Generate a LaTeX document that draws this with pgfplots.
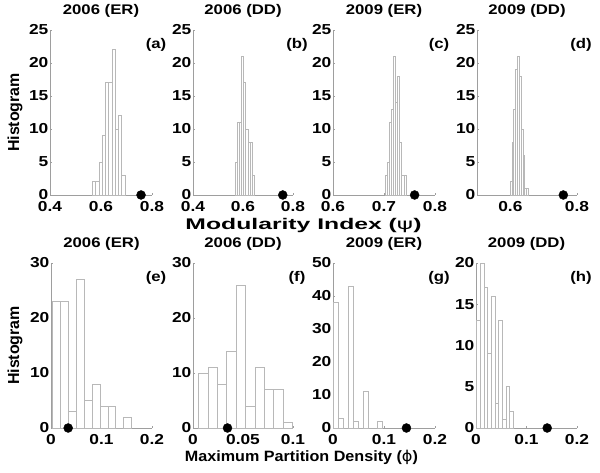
\documentclass[border=0pt]{standalone}
\usepackage{fontspec}
\usepackage{graphicx}
\usepackage{pgfplots}
\pgfplotsset{compat=1.18}
\setmainfont{Liberation Sans}
\newfontfamily\stfont{Liberation Sans}[FakeStretch=1.2]
\newfontfamily\dvs{DejaVu Sans}
\definecolor{barcol}{gray}{0.72}
\definecolor{axcol}{gray}{0.62}
\newcommand{\tfont}{\stfont\bfseries\fontsize{14}{14}\selectfont}
\newcommand{\kfont}{\stfont\bfseries\fontsize{14.5}{14.5}\selectfont}
\pgfplotsset{
  hist/.style={
    scale only axis, height=165bp,
    axis x line*=bottom, axis y line*=left,
    axis line style={axcol, line width=0.6bp},
    tick style={axcol, line width=0.5bp},
    major tick length=2bp, tick align=inside,
    ymin=0, clip=false,
    ticklabel style={font=\kfont, text=black},
    yticklabel style={inner xsep=1.5bp},
    xticklabel style={yshift=-4bp, inner ysep=2bp},
    /pgf/number format/assume math mode=true,
    title style={at={(axis description cs:0.5,1)}, anchor=base, yshift=10bp, font=\tfont},
  },
  bars/.style={ybar interval, draw=barcol, fill=white, line width=0.6bp},
  dot/.style={only marks, mark=*, mark size=4.5bp, black},
}
\newcommand{\plab}[1]{\node[font=\tfont, anchor=base] at (rel axis cs:1.04,0.885) {#1};}
\begin{document}
\begin{tikzpicture}[x=1bp,y=1bp]
\useasboundingbox (0,0) rectangle (600,473);
% ---------- top row ----------
\begin{axis}[hist, at={(50bp,278bp)}, anchor=south west, width=102bp,
  xmin=0.4, xmax=0.8, ymax=25, xtick={0.4,0.6,0.8}, xticklabels={0.4,0.6,0.8},
  ytick={0,5,10,15,20,25}, title={2006 (ER)}]
\addplot[bars] coordinates {(0.566,2) (0.5788,2) (0.5916,5) (0.6044,9) (0.6172,17) (0.63,17) (0.6428,22) (0.6556,10) (0.6684,12) (0.6812,3) (0.694,3)};
\addplot[dot] coordinates {(0.757,0)};
\plab{(a)}
\end{axis}
\begin{axis}[hist, at={(193bp,278bp)}, anchor=south west, width=100bp,
  xmin=0.4, xmax=0.8, ymax=25, xtick={0.4,0.6,0.8}, xticklabels={0.4,0.6,0.8},
  ytick={0,5,10,15,20,25}, title={2006 (DD)}]
\addplot[bars] coordinates {(0.568,5) (0.5766,11) (0.5851,11) (0.5937,21) (0.6022,17) (0.6108,10) (0.6194,8) (0.6279,8) (0.6365,3) (0.645,3)};
\addplot[dot] coordinates {(0.759,0)};
\plab{(b)}
\end{axis}
\begin{axis}[hist, at={(333bp,278bp)}, anchor=south west, width=102bp,
  xmin=0.6, xmax=0.8, ymax=25, xtick={0.6,0.7,0.8}, xticklabels={0.6,0.7,0.8},
  ytick={0,5,10,15,20,25}, title={2009 (ER)}]
\addplot[bars] coordinates {(0.702,3) (0.7061,5) (0.7102,11) (0.7143,13) (0.7184,21) (0.7225,14) (0.7266,18) (0.7307,8) (0.7348,3) (0.7389,3) (0.743,3)};
\addplot[dot] coordinates {(0.760,0)};
\plab{(c)}
\end{axis}
\begin{axis}[hist, at={(477bp,278bp)}, anchor=south west, width=100bp,
  xmin=0.5, xmax=0.8, ymax=25, xtick={0.6,0.8}, xticklabels={0.6,0.8},
  ytick={0,5,10,15,20,25}, title={2009 (DD)}]
\addplot[bars] coordinates {(0.599,2) (0.6045,8) (0.61,13) (0.6155,19) (0.621,21) (0.6265,18) (0.632,10) (0.6375,6) (0.643,1) (0.6485,1) (0.654,1)};
\addplot[dot] coordinates {(0.759,0)};
\plab{(d)}
\end{axis}
% ---------- bottom row ----------
\begin{axis}[hist, at={(51bp,45bp)}, anchor=south west, width=101bp,
  xmin=0, xmax=0.2, ymax=30, xtick={0,0.1,0.2}, xticklabels={0,0.1,0.2},
  ytick={0,10,20,30}, title={2006 (ER)}]
\addplot[bars] coordinates {(0.0027,23) (0.0184,23) (0.0341,3) (0.0498,27) (0.0655,5) (0.0812,8) (0.0969,4) (0.1126,4) (0.1283,0) (0.144,2) (0.1597,2)};
\addplot[dot] coordinates {(0.034,0)};
\plab{(e)}
\end{axis}
\begin{axis}[hist, at={(193bp,45bp)}, anchor=south west, width=100bp,
  xmin=0, xmax=0.1, ymax=30, xtick={0,0.05,0.1}, xticklabels={0,0.05,0.1},
  ytick={0,10,20,30}, title={2006 (DD)}]
\addplot[bars] coordinates {(0.0055,10) (0.0149,11) (0.0243,8) (0.0337,14) (0.0431,26) (0.0525,4) (0.0619,11) (0.0713,7) (0.0807,7) (0.0901,1) (0.0995,1)};
\addplot[dot] coordinates {(0.0345,0)};
\plab{(f)}
\end{axis}
\begin{axis}[hist, at={(333bp,45bp)}, anchor=south west, width=102bp,
  xmin=0, xmax=0.2, ymax=50, xtick={0,0.1,0.2}, xticklabels={0,0.1,0.2},
  ytick={0,10,20,30,40,50}, title={2009 (ER)}]
\addplot[bars] coordinates {(0.0013,38) (0.0109,3) (0.0205,0) (0.0301,43) (0.0397,2) (0.0493,0) (0.0589,11) (0.0685,0) (0.0781,0) (0.0877,2) (0.0973,2)};
\addplot[dot] coordinates {(0.144,0)};
\plab{(g)}
\end{axis}
\begin{axis}[hist, at={(476bp,45bp)}, anchor=south west, width=101bp,
  xmin=0, xmax=0.2, ymax=20, xtick={0,0.1,0.2}, xticklabels={0,0.1,0.2},
  ytick={0,5,10,15,20}, title={2009 (DD)}]
\addplot[bars] coordinates {(0.001,13) (0.0083,20) (0.0156,17) (0.0229,9) (0.0302,16) (0.0375,3) (0.0448,13) (0.0521,1) (0.0594,5) (0.0667,2) (0.074,2)};
\addplot[dot] coordinates {(0.141,0)};
\plab{(h)}
\end{axis}
% ---------- shared labels ----------
\node[rotate=90, font=\bfseries\fontsize{16}{16}\selectfont] at (15,360.5) {Histogram};
\node[rotate=90, font=\bfseries\fontsize{16}{16}\selectfont] at (15,127.5) {Histogram};
\node[anchor=base, inner sep=0pt, font=\bfseries\fontsize{15.5}{15.5}\selectfont] at (303.5,243.5) {\resizebox{236bp}{\height}{Modularity Index ({\mdseries\dvs ψ})}};
\node[anchor=base, inner sep=0pt, font=\bfseries\fontsize{15}{15}\selectfont] at (301.5,11.3) {\resizebox{233bp}{\height}{Maximum Partition Density ({\mdseries\dvs ϕ})}};
\end{tikzpicture}
\end{document}
